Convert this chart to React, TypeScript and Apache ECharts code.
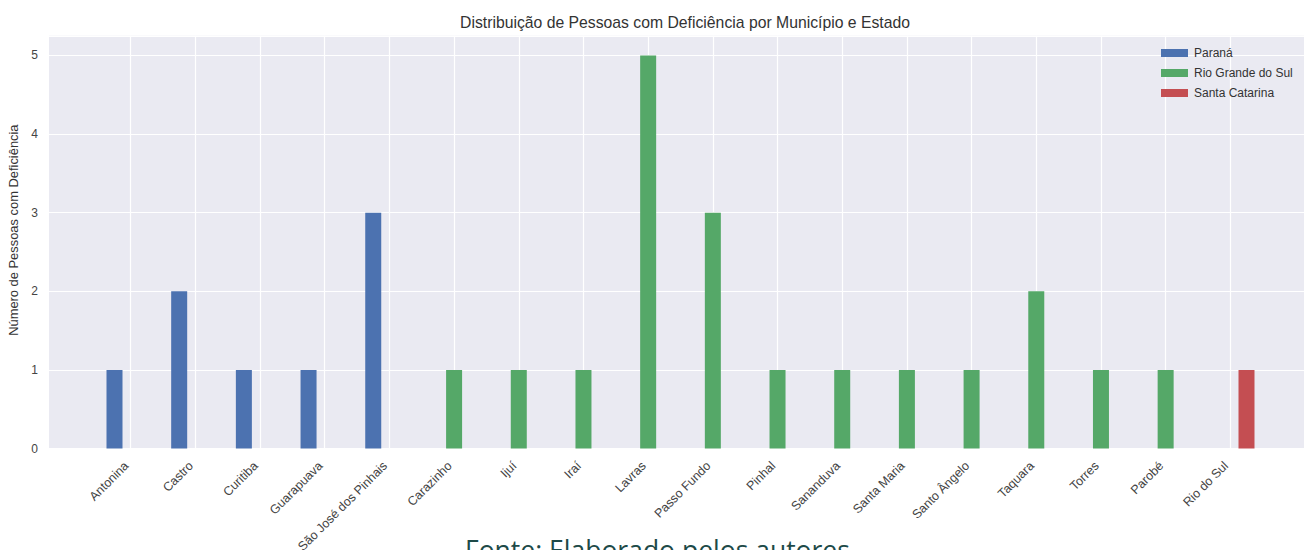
import React, { useEffect, useRef } from "react";
import * as echarts from "echarts";

const categories = [
  "Antonina", "Castro", "Curitiba", "Guarapuava", "São José dos Pinhais",
  "Carazinho", "Ijuí", "Iraí", "Lavras", "Passo Fundo", "Pinhal", "Sananduva",
  "Santa Maria", "Santo Ângelo", "Taquara", "Torres", "Parobé", "Rio do Sul",
];
const parana = [1, 2, 1, 1, 3, null, null, null, null, null, null, null, null, null, null, null, null, null];
const rioGrandeDoSul = [null, null, null, null, null, 1, 1, 1, 5, 3, 1, 1, 1, 1, 2, 1, 1, null];
const santaCatarina = [null, null, null, null, null, null, null, null, null, null, null, null, null, null, null, null, null, 1];
const seriesNames = ["Paraná", "Rio Grande do Sul", "Santa Catarina"];
const colors = ["#4C72B0", "#55A868", "#C44E52"];
const yTicks = [0, 1, 2, 3, 4, 5];
const groupOffsets = [-0.25, 0, 0.25];

export default function App() {
  const ref = useRef<HTMLDivElement>(null);
  useEffect(() => {
    document.body.style.margin = "0";
    const chart = echarts.init(ref.current!, null, { renderer: "svg" });
    const allData = [parana, rioGrandeDoSul, santaCatarina];
    const idx = categories.map((_, i) => i);
    const font = "'Liberation Sans', Arial, sans-serif";
    chart.setOption({
      animation: false,
      backgroundColor: "#ffffff",
      title: {
        text: "Distribuição de Pessoas com Deficiência por Município e Estado",
        left: 680,
        textAlign: "center",
        top: 9,
        textStyle: { fontFamily: font, fontSize: 15.75, fontWeight: "normal", color: "#333333" },
      },
      legend: {
        left: 1156,
        top: 42,
        orient: "vertical",
        itemWidth: 27,
        itemHeight: 8,
        itemGap: 8,
        icon: "rect",
        textStyle: { fontFamily: font, fontSize: 12, color: "#333333", padding: [0, 0, 0, 1] },
        data: seriesNames,
      },
      grid: {
        left: 49,
        top: 35.8,
        width: 1263,
        height: 412.7,
        show: true,
        backgroundColor: "#EAEAF2",
        borderWidth: 0,
        containLabel: false,
        outerBoundsMode: "none",
      },
      xAxis: {
        type: "value",
        min: -1.2625,
        max: 18.2625,
        axisLine: { show: false },
        axisTick: { show: false, customValues: idx },
        splitLine: { show: true, lineStyle: { color: "#ffffff", width: 1.2 } },
        axisLabel: {
          customValues: idx,
          rotate: 45,
          margin: 11,
          padding: [0, 6, 0, 0],
          fontFamily: font,
          fontSize: 12.5,
          color: "#444444",
          formatter: (v: number) => categories[Math.round(v)] ?? "",
        },
      },
      yAxis: {
        type: "value",
        min: 0,
        max: 5.25,
        interval: 1,
        name: "Número de Pessoas com Deficiência",
        nameLocation: "middle",
        nameGap: 19,
        nameTextStyle: { fontFamily: font, fontSize: 12.9, color: "#333333", padding: [0, 0, 0, 24] },
        axisLine: { show: false },
        axisTick: { show: false },
        splitLine: { show: true, lineStyle: { color: "#ffffff", width: 1.2 } },
        axisLabel: {
          fontFamily: font,
          fontSize: 12,
          color: "#444444",
          margin: 11,
          formatter: (v: number) => (yTicks.includes(v) ? String(v) : ""),
        },
      },
      series: allData.map((arr, s) => ({
        name: seriesNames[s],
        type: "bar",
        barWidth: 16,
        barGap: "-100%",
        clip: false,
        itemStyle: { color: colors[s] },
        data: arr
          .map((v, i) => (v == null ? null : [i + groupOffsets[s], v]))
          .filter((d) => d !== null),
      })),
      graphic: [
        {
          type: "text",
          left: 465,
          top: 536,
          style: {
            text: "Fonte: Elaborado pelos autores",
            fontFamily: "'Open Sans', sans-serif",
            fontSize: 26.5,
            fill: "#1d4a48",
          },
        },
      ],
    });
    return () => chart.dispose();
  }, []);
  return <div ref={ref} style={{ width: 1304, height: 550 }} />;
}
